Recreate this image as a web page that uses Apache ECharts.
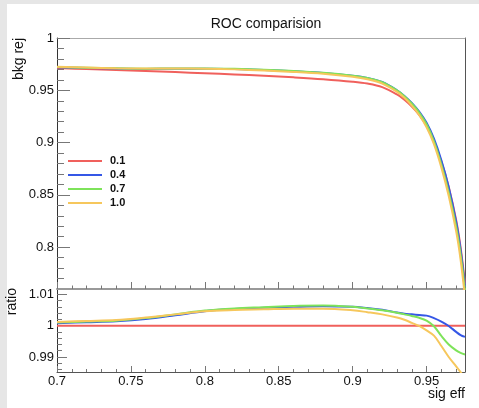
<!DOCTYPE html>
<html>
<head>
<meta charset="utf-8">
<script src="https://cdn.jsdelivr.net/npm/echarts@6/dist/echarts.min.js"></script>
<style>
html,body{margin:0;padding:0;background:#e6e6e6;}
#bg{position:absolute;left:7px;top:4px;width:472px;height:404px;background:#fff;}
#chart{position:absolute;left:0;top:0;width:479px;height:408px;}
</style>
</head>
<body>
<div id="bg"></div>
<div id="chart"></div>
<script>
// ---- data ----
const sigEff = [0.70,0.72,0.74,0.76,0.78,0.80,0.82,0.84,0.86,0.88,0.90,0.91,0.92,0.93,0.935,0.94,0.945,0.95,0.955,0.96,0.965,0.97,0.973,0.976];
const seriesNames = ['0.1','0.4','0.7','1.0'];
const rocRed    = [0.9712,0.9703,0.9694,0.9684,0.9674,0.9663,0.9652,0.9639,0.9624,0.9606,0.9582,0.9564,0.9530,0.9460,0.9410,0.9345,0.9265,0.9160,0.9015,0.8820,0.8575,0.8260,0.8000,0.7650];
const rocBlue   = [0.9720,0.9714,0.9708,0.9704,0.9706,0.9707,0.9703,0.9694,0.9682,0.9666,0.9639,0.9618,0.9579,0.9500,0.9446,0.9379,0.9296,0.9189,0.9037,0.8831,0.8574,0.8243,0.7976,0.7622];
const rocGreen  = [0.9722,0.9716,0.9710,0.9707,0.9709,0.9709,0.9705,0.9696,0.9685,0.9667,0.9639,0.9617,0.9577,0.9499,0.9444,0.9374,0.9288,0.9175,0.9013,0.8791,0.8524,0.8195,0.7930,0.7580];
const rocYellow = [0.9724,0.9718,0.9711,0.9709,0.9709,0.9707,0.9700,0.9689,0.9676,0.9658,0.9629,0.9605,0.9564,0.9485,0.9428,0.9353,0.9264,0.9146,0.8986,0.8763,0.8489,0.8153,0.7882,0.7520];
const ratioRed    = [1,1,1,1,1,1,1,1,1,1,1,1,1,1,1,1,1,1,1,1,1,1,1,1];
const ratioBlue   = [1.0008,1.0011,1.0014,1.0021,1.0033,1.0046,1.0053,1.0057,1.0060,1.0062,1.0060,1.0056,1.0051,1.0042,1.0038,1.0036,1.0034,1.0032,1.0024,1.0013,0.9999,0.9980,0.9970,0.9964];
const ratioGreen  = [1.0010,1.0013,1.0016,1.0024,1.0036,1.0048,1.0055,1.0059,1.0063,1.0064,1.0060,1.0055,1.0049,1.0041,1.0036,1.0031,1.0025,1.0016,0.9998,0.9967,0.9940,0.9921,0.9913,0.9908];
const ratioYellow = [1.0012,1.0015,1.0018,1.0026,1.0036,1.0046,1.0050,1.0052,1.0054,1.0054,1.0049,1.0043,1.0036,1.0026,1.0019,1.0009,0.9999,0.9985,0.9968,0.9935,0.9900,0.9870,0.9852,0.9830];
const xMajorTicks = [0.7,0.75,0.8,0.85,0.9,0.95];
const yTopMajorTicks = [0.8,0.85,0.9,0.95,1];
const yRatioMajorTicks = [0.99,1,1.01];

// ---- styling helpers ----
const colors = ['#f0605c','#3557e6','#7ee35a','#f6c75c'];
const FONT = 'Liberation Sans';
const X_MIN = 0.7, X_MAX = 0.976;
const YT_MIN = 0.76, YT_MAX = 1.0;
const YR_MIN = 0.9852, YR_MAX = 1.0117;

function minorList(from, to, step, majors){
  const out=[]; const n=Math.round((to-from)/step);
  for(let i=0;i<=n;i++){const v=+(from+i*step).toFixed(5); if(!majors.some(m=>Math.abs(m-v)<1e-7)) out.push(v);}
  return out;
}
const xMinor = minorList(0.70, 0.97, 0.01, xMajorTicks);
const yTopMinor = minorList(0.77, 0.99, 0.01, yTopMajorTicks);
const yRatioMinor = minorList(0.986, 1.010, 0.002, yRatioMajorTicks);

function plainAxis(base){
  return Object.assign({type:'value', splitLine:{show:false}, axisLabel:{show:false}, axisTick:{show:false}}, base);
}
const tickColor = '#777';
const labelStyle = {fontFamily:FONT, fontSize:13, color:'#111'};

const xAxes = [
  // 0: top panel bottom major
  plainAxis({gridIndex:0, position:'bottom', min:X_MIN, max:X_MAX,
    axisLine:{show:true, onZero:false, lineStyle:{color:'#999', width:2}},
    axisTick:{show:true, inside:true, length:7, customValues:xMajorTicks, lineStyle:{color:tickColor}}}),
  // 1: top panel bottom minor
  plainAxis({gridIndex:0, position:'bottom', min:X_MIN, max:X_MAX,
    axisLine:{show:false},
    axisTick:{show:true, inside:true, length:3.5, customValues:xMinor, lineStyle:{color:tickColor}}}),
  // 2: top panel top border
  plainAxis({gridIndex:0, position:'top', min:X_MIN, max:X_MAX,
    axisLine:{show:true, onZero:false, lineStyle:{color:'#aaa', width:1}}}),
  // 3: ratio bottom major with labels
  plainAxis({gridIndex:1, position:'bottom', min:X_MIN, max:X_MAX,
    axisLine:{show:true, onZero:false, lineStyle:{color:'#555', width:1}},
    axisTick:{show:true, inside:true, length:6, customValues:xMajorTicks, lineStyle:{color:tickColor}},
    axisLabel:Object.assign({show:true, margin:3, customValues:xMajorTicks}, labelStyle)}),
  // 4: ratio bottom minor
  plainAxis({gridIndex:1, position:'bottom', min:X_MIN, max:X_MAX,
    axisLine:{show:false},
    axisTick:{show:true, inside:true, length:3, customValues:xMinor, lineStyle:{color:tickColor}}})
];
const yAxes = [
  // 0: top panel left major
  plainAxis({gridIndex:0, position:'left', min:YT_MIN, max:YT_MAX,
    axisLine:{show:true, onZero:false, lineStyle:{color:'#333', width:1}},
    axisTick:{show:true, inside:true, length:13, customValues:yTopMajorTicks, lineStyle:{color:tickColor}},
    axisLabel:Object.assign({show:true, margin:3, customValues:yTopMajorTicks}, labelStyle)}),
  // 1: top panel left minor
  plainAxis({gridIndex:0, position:'left', min:YT_MIN, max:YT_MAX,
    axisLine:{show:false},
    axisTick:{show:true, inside:true, length:7, customValues:yTopMinor, lineStyle:{color:tickColor}}}),
  // 2: top panel right border
  plainAxis({gridIndex:0, position:'right', min:YT_MIN, max:YT_MAX,
    axisLine:{show:true, onZero:false, lineStyle:{color:'#555', width:1}}}),
  // 3: ratio left major
  plainAxis({gridIndex:1, position:'left', min:YR_MIN, max:YR_MAX,
    axisLine:{show:true, onZero:false, lineStyle:{color:'#333', width:1}},
    axisTick:{show:true, inside:true, length:10, customValues:yRatioMajorTicks, lineStyle:{color:tickColor}},
    axisLabel:Object.assign({show:true, margin:3, customValues:yRatioMajorTicks}, labelStyle)}),
  // 4: ratio left minor
  plainAxis({gridIndex:1, position:'left', min:YR_MIN, max:YR_MAX,
    axisLine:{show:false},
    axisTick:{show:true, inside:true, length:5, customValues:yRatioMinor, lineStyle:{color:tickColor}}}),
  // 5: ratio right border
  plainAxis({gridIndex:1, position:'right', min:YR_MIN, max:YR_MAX,
    axisLine:{show:true, onZero:false, lineStyle:{color:'#555', width:1}}})
];

function pairs(xs, ys){ return xs.map((x,i)=>[x, ys[i]]); }
function lineSeries(name, color, data, xi, yi){
  return {type:'line', name, xAxisIndex:xi, yAxisIndex:yi, data, showSymbol:false, symbol:'none',
    smooth:0.35, clip:true, lineStyle:{color, width:2}, itemStyle:{color}, emphasis:{disabled:true}};
}
const rocSets = [rocRed, rocBlue, rocGreen, rocYellow];
const ratioSets = [ratioRed, ratioBlue, ratioGreen, ratioYellow];
const series = [];
ratioSets.forEach((d,i)=>series.push(lineSeries(seriesNames[i], colors[i], pairs(sigEff,d), 3, 3)));
// draw order in top panel: red, blue, green, yellow
rocSets.forEach((d,i)=>series.push(lineSeries(seriesNames[i], colors[i], pairs(sigEff,d), 0, 0)));

const option = {
  animation:false,
  backgroundColor:'transparent',
  title:{text:'ROC comparision', left:261, top:12, textAlign:'center',
    textStyle:{fontFamily:FONT, fontSize:14, fontWeight:'normal', color:'#111'}},
  legend:{orient:'vertical', left:63, top:149, itemWidth:34, itemHeight:2, itemGap:0, icon:'rect',
    data:seriesNames,
    textStyle:{fontFamily:FONT, fontSize:11, fontWeight:'bold', color:'#111', lineHeight:14, padding:[0,0,0,3]}},
  grid:[
    {left:57, top:38, width:408, height:251, show:false},
    {left:57, top:289, width:408, height:83, show:false}
  ],
  xAxis:xAxes,
  yAxis:yAxes,
  series:series,
  graphic:[
    {type:'text', x:19, y:38, rotation:Math.PI/2,
      style:{text:'bkg rej', fontFamily:FONT, fontSize:14, fill:'#111', align:'right', verticalAlign:'middle'}},
    {type:'text', x:12, y:288, rotation:Math.PI/2,
      style:{text:'ratio', fontFamily:FONT, fontSize:14, fill:'#111', align:'right', verticalAlign:'middle'}},
    {type:'text', x:465, y:394,
      style:{text:'sig eff', fontFamily:FONT, fontSize:14, fill:'#111', align:'right', verticalAlign:'middle'}}
  ]
};
const chart = echarts.init(document.getElementById('chart'), null, {renderer:'canvas'});
chart.setOption(option);
</script>
</body>
</html>
